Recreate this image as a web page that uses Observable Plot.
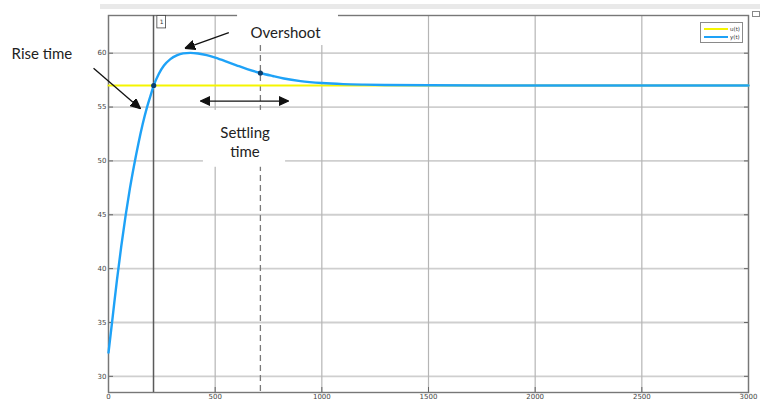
<!DOCTYPE html>
<html>
<head>
<meta charset="utf-8">
<script src="https://cdn.jsdelivr.net/npm/d3@7"></script>
<script src="https://cdn.jsdelivr.net/npm/@observablehq/plot@0.6"></script>
<style>
  html, body { margin: 0; padding: 0; background: #fff; }
  #wrap { position: relative; width: 760px; height: 405px; overflow: hidden; }
  #wrap svg { position: absolute; left: 0; top: 0; }
  .strip { position: absolute; left: 100px; top: 4px; width: 660px; height: 5px; background: #e9e9e9; }
  .legend { position: absolute; left: 700px; top: 22px; width: 41px; height: 19px; border: 1px solid #8a8a8a; background: #fff; font-family: "DejaVu Sans", sans-serif; font-size: 5.5px; color: #333; }
  .legend .row { position: absolute; left: 2px; height: 8px; width: 38px; }
  .legend .sw { position: absolute; left: 1px; top: 3px; width: 24px; height: 2px; }
  .legend .lb { position: absolute; left: 27px; top: 0px; line-height: 8px; }
  .icon { position: absolute; left: 752px; top: 11px; width: 6px; height: 4px; border: 1px solid #888; }
</style>
</head>
<body>
<div id="wrap"></div>
<script>
// ---- data ----
const timeVals = [0, 20, 40, 60, 80, 100, 120, 140, 160, 180, 200, 212, 235, 260, 290, 320, 350, 384, 420, 460, 500, 550, 600, 650, 712, 770, 822, 900, 1000, 1100, 1200, 1300, 1500, 2000, 3000];
const yVals    = [32.2, 35.6, 39.0, 42.1, 44.9, 47.4, 49.6, 51.6, 53.4, 54.95, 56.25, 57.0, 58.05, 58.85, 59.45, 59.8, 59.98, 60.03, 59.97, 59.82, 59.58, 59.24, 58.88, 58.53, 58.16, 57.88, 57.65, 57.41, 57.23, 57.13, 57.08, 57.05, 57.02, 57.0, 57.0];
const uTime = [0, 3000];
const uVals = [57, 57];
const xTicks = [0, 500, 1000, 1500, 2000, 2500, 3000];
const yTicks = [30, 35, 40, 45, 50, 55, 60];
const riseCursor = [211];
const settleCursor = [712];
const markedPoints = [{t: 212, v: 57.0}, {t: 712, v: 58.16}];
const cursorLabel = [{t1: 229, t2: 270, v1: 62.3, v2: 63.45, label: "1"}];
const labels = [
  {label: "Rise time", t: -312, v: 60.0},
  {label: "Overshoot", t: 830, v: 62.0},
  {label: "Settling\ntime", t: 640, v: 51.8}
];
const singleArrows = [
  {t1: -70, v1: 58.6, t2: 150, v2: 54.85},
  {t1: 564, v1: 61.9, t2: 358, v2: 60.45}
];
const doubleArrows = [{t1: 431, v1: 55.56, t2: 844, v2: 55.56}];
const labelBacks = [
  {t1: 605, t2: 1078, v1: 60.71, v2: 63.9},
  {t1: 445, t2: 830, v1: 49.41, v2: 54.69}
];

const curveData = timeVals.map((t, i) => ({t, v: yVals[i]}));
const uData = uTime.map((t, i) => ({t, v: uVals[i]}));

let markerCount = 0;
function filledHeads(both) {
  return function(index, scales, values, dimensions, context, next) {
    const g = next(index, scales, values, dimensions, context);
    const id = "ahead" + (markerCount++);
    const defs = d3.create("svg:defs");
    defs.append("marker")
      .attr("id", id)
      .attr("viewBox", "0 -5 10 10")
      .attr("refX", 10).attr("refY", 0)
      .attr("markerWidth", 10).attr("markerHeight", 10)
      .attr("markerUnits", "userSpaceOnUse")
      .attr("orient", "auto-start-reverse")
      .append("path").attr("d", "M0,-4.5L10,0L0,4.5Z").attr("fill", "#111");
    g.insertBefore(defs.node(), g.firstChild);
    d3.select(g).selectAll("path").filter(function() { return !this.closest("marker"); })
      .attr("marker-end", `url(#${id})`)
      .attr("marker-start", both ? `url(#${id})` : null);
    return g;
  };
}

const chart = Plot.plot({
  width: 760,
  height: 405,
  marginLeft: 108,
  marginRight: 12,
  marginTop: 15,
  marginBottom: 13,
  style: {background: "transparent", overflow: "visible"},
  x: {domain: [0, 3000], label: null},
  y: {domain: [28.5, 63.5], label: null},
  marks: [
    Plot.gridY(yTicks, {stroke: "#cfcfcf", strokeOpacity: 1, strokeWidth: 1.8}),
    Plot.gridX(xTicks, {stroke: "#b5b5b5", strokeOpacity: 1, strokeWidth: 1.2}),
    Plot.axisY({ticks: yTicks, tickSize: 0, tickPadding: 2, fontSize: 7, fill: "#444", fontFamily: "DejaVu Sans", tickFormat: d => String(d), label: null}),
    Plot.axisX({ticks: xTicks, tickSize: 0, tickPadding: 2, fontSize: 7, fill: "#444", fontFamily: "DejaVu Sans", tickFormat: d => String(d), label: null}),
    Plot.axisY({ticks: yTicks, tickSize: 5, dx: 5, tickFormat: () => "", stroke: "#666", label: null}),
    Plot.axisY({ticks: yTicks, anchor: "right", tickSize: 5, dx: -5, tickFormat: () => "", stroke: "#666", label: null}),
    Plot.axisX({ticks: xTicks, tickSize: 5, dy: -5, tickFormat: () => "", stroke: "#666", label: null}),
    Plot.frame({stroke: "#777", strokeWidth: 1.4}),
    Plot.ruleX(riseCursor, {stroke: "#5a5a5a", strokeWidth: 1.5}),
    Plot.ruleX(settleCursor, {stroke: "#7a7a7a", strokeWidth: 1.3, strokeDasharray: "6,4"}),
    Plot.rect(labelBacks, {x1: "t1", x2: "t2", y1: "v1", y2: "v2", fill: "#fff"}),
    Plot.line(uData, {x: "t", y: "v", stroke: "#f5f500", strokeWidth: 2}),
    Plot.line(curveData, {x: "t", y: "v", stroke: "#1ea2f7", strokeWidth: 2.4, curve: "monotone-x"}),
    Plot.dot(markedPoints, {x: "t", y: "v", r: 2.6, fill: "#0d3f6e"}),
    Plot.rect(cursorLabel, {x1: "t1", x2: "t2", y1: "v1", y2: "v2", fill: "#fff", stroke: "#444", strokeWidth: 0.8}),
    Plot.text(cursorLabel, {x: d => (d.t1 + d.t2) / 2, y: d => (d.v1 + d.v2) / 2, text: "label", fontSize: 6, fill: "#333", fontFamily: "DejaVu Sans"}),
    Plot.link(singleArrows, {x1: "t1", y1: "v1", x2: "t2", y2: "v2", stroke: "#111", strokeWidth: 1.3, render: filledHeads(false)}),
    Plot.link(doubleArrows, {x1: "t1", y1: "v1", x2: "t2", y2: "v2", stroke: "#111", strokeWidth: 1.3, render: filledHeads(true)}),
    Plot.text(labels, {x: "t", y: "v", text: "label", fontSize: 15, fontFamily: "Lato", fill: "#222", lineHeight: 1.27})
  ]
});

const wrap = document.getElementById("wrap");
wrap.appendChild(chart);
wrap.insertAdjacentHTML("beforeend", `
  <div class="strip"></div>
  <div class="icon"></div>
  <div class="legend">
    <div class="row" style="top:2px"><div class="sw" style="background:#f5f500"></div><div class="lb">u(t)</div></div>
    <div class="row" style="top:10px"><div class="sw" style="background:#1ea2f7"></div><div class="lb">y(t)</div></div>
  </div>`);
</script>
</body>
</html>
